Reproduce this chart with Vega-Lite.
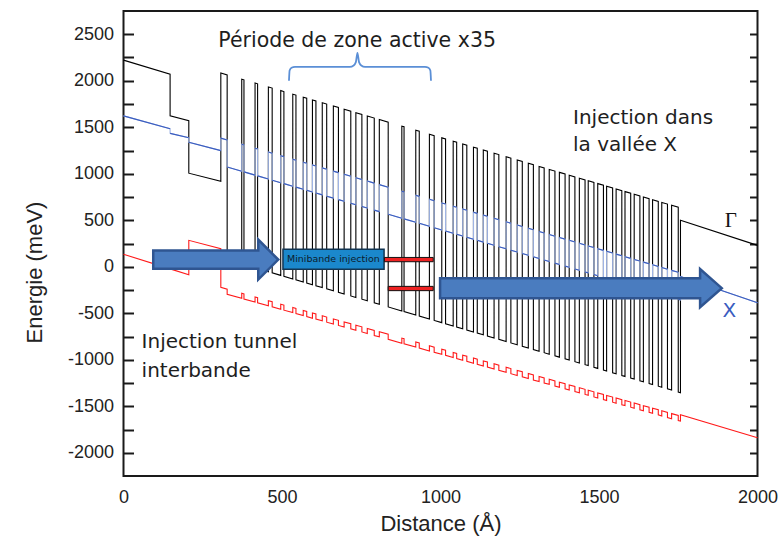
{
  "$schema": "https://vega.github.io/schema/vega-lite/v6.json",
  "width": 634,
  "height": 465,
  "autosize": {"type": "none"},
  "padding": {"left": 123.5, "top": 11, "right": 21.5, "bottom": 69},
  "background": "white",
  "config": {
    "view": {"stroke": "#1a1a1a", "strokeWidth": 2},
    "axis": {"grid": false, "domain": false, "ticks": false, "labelFlush": false, "labelFont": "Liberation Sans", "titleFont": "Liberation Sans", "labelColor": "#222", "titleColor": "#222", "titleFontWeight": "normal"}
  },
  "resolve": {"axis": {"y": "independent"}},
  "datasets": {
    "profile": [
      {"x":0,"g":2222,"b":1622,"r":134},{"x":147,"g":2071,"b":1484,"r":-23},{"x":147,"g":1622,"b":1434,"r":-23},{"x":206,"g":1570,"b":1388,"r":-86},{"x":206,"g":1006,"b":1338,"r":284},{"x":307,"g":920,"b":1249,"r":195},
      {"x":307,"g":2083,"b":1383,"r":-222},{"x":327,"g":2063,"b":1363,"r":-241},{"x":327,"g":76,"b":1073,"r":-296},
      {"x":373,"g":30,"b":1027,"r":-340},{"x":373,"g":2017,"b":1317,"r":-285},{"x":380,"g":2010,"b":1310,"r":-292},{"x":380,"g":23,"b":1020,"r":-347},
      {"x":415,"g":-12,"b":985,"r":-380},{"x":415,"g":1975,"b":1275,"r":-325},{"x":423,"g":1967,"b":1267,"r":-333},{"x":423,"g":-20,"b":977,"r":-388},
      {"x":457,"g":-54,"b":943,"r":-420},{"x":457,"g":1933,"b":1233,"r":-365},{"x":469,"g":1921,"b":1221,"r":-376},{"x":469,"g":-66,"b":931,"r":-431},
      {"x":496,"g":-93,"b":904,"r":-457},{"x":496,"g":1894,"b":1194,"r":-402},{"x":506,"g":1884,"b":1184,"r":-412},{"x":506,"g":-103,"b":894,"r":-467},
      {"x":534,"g":-131,"b":866,"r":-493},{"x":534,"g":1856,"b":1156,"r":-438},{"x":544,"g":1846,"b":1146,"r":-448},{"x":544,"g":-141,"b":856,"r":-503},
      {"x":567,"g":-164,"b":833,"r":-525},{"x":567,"g":1823,"b":1123,"r":-470},{"x":578,"g":1812,"b":1112,"r":-480},{"x":578,"g":-175,"b":822,"r":-535},
      {"x":596,"g":-193,"b":804,"r":-553},{"x":596,"g":1794,"b":1094,"r":-498},{"x":607,"g":1783,"b":1083,"r":-508},{"x":607,"g":-204,"b":793,"r":-563},
      {"x":627,"g":-224,"b":773,"r":-582},{"x":627,"g":1763,"b":1063,"r":-527},{"x":641,"g":1749,"b":1049,"r":-541},{"x":641,"g":-238,"b":759,"r":-596},
      {"x":662,"g":-259,"b":738,"r":-616},{"x":662,"g":1728,"b":1028,"r":-561},{"x":678,"g":1712,"b":1012,"r":-576},{"x":678,"g":-275,"b":722,"r":-631},
      {"x":696,"g":-293,"b":704,"r":-648},{"x":696,"g":1694,"b":994,"r":-593},{"x":717,"g":1673,"b":973,"r":-613},{"x":717,"g":-314,"b":683,"r":-668},
      {"x":733,"g":-330,"b":667,"r":-683},{"x":733,"g":1657,"b":957,"r":-628},{"x":752,"g":1638,"b":938,"r":-646},{"x":752,"g":-349,"b":648,"r":-701},
      {"x":769,"g":-366,"b":631,"r":-718},{"x":769,"g":1621,"b":921,"r":-663},{"x":791,"g":1599,"b":899,"r":-684},{"x":791,"g":-388,"b":609,"r":-739},
      {"x":807,"g":-404,"b":593,"r":-754},{"x":807,"g":1583,"b":883,"r":-699},{"x":835,"g":1555,"b":855,"r":-726},{"x":835,"g":-432,"b":565,"r":-781},
      {"x":878,"g":-475,"b":522,"r":-822},{"x":878,"g":1512,"b":812,"r":-767},{"x":885,"g":1505,"b":805,"r":-773},{"x":885,"g":-482,"b":515,"r":-828},
      {"x":922,"g":-519,"b":478,"r":-864},{"x":922,"g":1468,"b":768,"r":-809},{"x":933,"g":1457,"b":757,"r":-819},{"x":933,"g":-530,"b":467,"r":-874},
      {"x":965,"g":-562,"b":435,"r":-905},{"x":965,"g":1425,"b":725,"r":-850},{"x":980,"g":1410,"b":710,"r":-864},{"x":980,"g":-577,"b":420,"r":-919},
      {"x":1004,"g":-601,"b":396,"r":-942},{"x":1004,"g":1386,"b":686,"r":-887},{"x":1016,"g":1374,"b":674,"r":-898},{"x":1016,"g":-613,"b":384,"r":-953},
      {"x":1040,"g":-637,"b":360,"r":-976},{"x":1040,"g":1350,"b":650,"r":-921},{"x":1051,"g":1339,"b":639,"r":-932},{"x":1051,"g":-648,"b":349,"r":-987},
      {"x":1070,"g":-667,"b":330,"r":-1005},{"x":1070,"g":1320,"b":620,"r":-950},{"x":1083,"g":1307,"b":607,"r":-962},{"x":1083,"g":-680,"b":317,"r":-1017},
      {"x":1104,"g":-701,"b":296,"r":-1037},{"x":1104,"g":1286,"b":586,"r":-982},{"x":1116,"g":1274,"b":574,"r":-994},{"x":1116,"g":-713,"b":284,"r":-1049},
      {"x":1135,"g":-732,"b":265,"r":-1067},{"x":1135,"g":1255,"b":555,"r":-1012},{"x":1148,"g":1242,"b":542,"r":-1024},{"x":1148,"g":-745,"b":252,"r":-1079},
      {"x":1169,"g":-766,"b":231,"r":-1099},{"x":1169,"g":1221,"b":521,"r":-1044},{"x":1184,"g":1206,"b":506,"r":-1059},{"x":1184,"g":-781,"b":216,"r":-1114},
      {"x":1207,"g":-804,"b":193,"r":-1135},{"x":1207,"g":1183,"b":483,"r":-1080},{"x":1222,"g":1168,"b":468,"r":-1095},{"x":1222,"g":-819,"b":178,"r":-1150},
      {"x":1242,"g":-839,"b":158,"r":-1169},{"x":1242,"g":1148,"b":448,"r":-1114},{"x":1258,"g":1132,"b":432,"r":-1129},{"x":1258,"g":-855,"b":142,"r":-1184},
      {"x":1277,"g":-874,"b":123,"r":-1202},{"x":1277,"g":1113,"b":413,"r":-1147},{"x":1293,"g":1097,"b":397,"r":-1163},{"x":1293,"g":-890,"b":107,"r":-1218},
      {"x":1311,"g":-908,"b":89,"r":-1235},{"x":1311,"g":1079,"b":379,"r":-1180},{"x":1327,"g":1063,"b":363,"r":-1195},{"x":1327,"g":-924,"b":73,"r":-1250},
      {"x":1343,"g":-940,"b":57,"r":-1265},{"x":1343,"g":1047,"b":347,"r":-1210},{"x":1361,"g":1029,"b":329,"r":-1227},{"x":1361,"g":-958,"b":39,"r":-1282},
      {"x":1375,"g":-972,"b":25,"r":-1296},{"x":1375,"g":1015,"b":315,"r":-1241},{"x":1393,"g":997,"b":297,"r":-1258},{"x":1393,"g":-990,"b":7,"r":-1313},
      {"x":1406,"g":-1003,"b":-6,"r":-1325},{"x":1406,"g":984,"b":284,"r":-1270},{"x":1424,"g":966,"b":266,"r":-1288},{"x":1424,"g":-1021,"b":-24,"r":-1343},
      {"x":1438,"g":-1035,"b":-38,"r":-1356},{"x":1438,"g":952,"b":252,"r":-1301},{"x":1456,"g":934,"b":234,"r":-1318},{"x":1456,"g":-1053,"b":-56,"r":-1373},
      {"x":1466,"g":-1063,"b":-66,"r":-1383},{"x":1466,"g":924,"b":224,"r":-1328},{"x":1484,"g":906,"b":206,"r":-1345},{"x":1484,"g":-1081,"b":-84,"r":-1400},
      {"x":1496,"g":-1093,"b":-96,"r":-1411},{"x":1496,"g":894,"b":194,"r":-1356},{"x":1514,"g":876,"b":176,"r":-1373},{"x":1514,"g":-1111,"b":-114,"r":-1428},
      {"x":1524,"g":-1121,"b":-124,"r":-1438},{"x":1524,"g":866,"b":166,"r":-1383},{"x":1543,"g":847,"b":147,"r":-1401},{"x":1543,"g":-1140,"b":-143,"r":-1456},
      {"x":1554,"g":-1151,"b":-154,"r":-1467},{"x":1554,"g":836,"b":136,"r":-1412},{"x":1572,"g":818,"b":118,"r":-1429},{"x":1572,"g":-1169,"b":-172,"r":-1484},
      {"x":1582,"g":-1179,"b":-182,"r":-1493},{"x":1582,"g":808,"b":108,"r":-1438},{"x":1600,"g":790,"b":90,"r":-1455},{"x":1600,"g":-1197,"b":-200,"r":-1510},
      {"x":1611,"g":-1208,"b":-211,"r":-1521},{"x":1611,"g":779,"b":79,"r":-1466},{"x":1629,"g":761,"b":61,"r":-1483},{"x":1629,"g":-1226,"b":-229,"r":-1538},
      {"x":1640,"g":-1237,"b":-240,"r":-1549},{"x":1640,"g":750,"b":50,"r":-1494},{"x":1658,"g":732,"b":32,"r":-1511},{"x":1658,"g":-1255,"b":-258,"r":-1566},
      {"x":1669,"g":-1266,"b":-269,"r":-1576},{"x":1669,"g":721,"b":21,"r":-1521},{"x":1687,"g":703,"b":3,"r":-1538},{"x":1687,"g":-1284,"b":-287,"r":-1593},
      {"x":1698,"g":-1295,"b":-298,"r":-1604},{"x":1698,"g":692,"b":-8,"r":-1549},{"x":1716,"g":674,"b":-26,"r":-1566},{"x":1716,"g":-1313,"b":-316,"r":-1621},
      {"x":1729,"g":-1326,"b":-329,"r":-1634},{"x":1729,"g":661,"b":-39,"r":-1579},{"x":1750,"g":640,"b":-60,"r":-1599},{"x":1750,"g":-1347,"b":-350,"r":-1654},
      {"x":1757,"g":-1354,"b":-357,"r":-1660},{"x":1757,"g":499,"b":-105,"r":-1592},{"x":2000,"g":230,"b":-388,"r":-1839}
    ],
    "brace": [
      {"x":522,"E":2000},{"x":524,"E":2110},{"x":530,"E":2140},{"x":541,"E":2150},{"x":714,"E":2150},{"x":726,"E":2165},{"x":733,"E":2200},{"x":738,"E":2300},{"x":743,"E":2200},{"x":750,"E":2165},{"x":762,"E":2150},{"x":951,"E":2150},{"x":962,"E":2140},{"x":968,"E":2110},{"x":970,"E":2000}
    ]
  },
  "encoding": {
    "x": {"field": "x", "type": "quantitative", "scale": {"domain": [0, 2000], "nice": false, "zero": false},
      "axis": {"values": [0, 500, 1000, 1500, 2000], "labelExpr": "'' + datum.value", "labelFontSize": 18, "labelPadding": 12, "title": "Distance (Å)", "titleFontSize": 22, "titleY": 47, "titleBaseline": "middle"}},
    "y": {"field": "E", "type": "quantitative", "scale": {"domain": [-2250, 2750], "nice": false, "zero": false}, "axis": null}
  },
  "layer": [
    {
      "data": {"name": "profile"},
      "transform": [{"fold": ["g", "b", "r"], "as": ["band", "E"]}],
      "mark": {"type": "line", "strokeWidth": 1.1},
      "encoding": {
        "color": {"field": "band", "type": "nominal", "scale": {"domain": ["g", "b", "r"], "range": ["#000000", "#9fb4e4", "#ff1a1a"]}, "legend": null},
        "order": {"value": null}
      }
    },
    {
      "data": {"name": "profile"},
      "transform": [
        {"window": [{"op": "lead", "field": "x", "as": "nx"}, {"op": "lead", "field": "b", "as": "nb"}]},
        {"filter": "datum.nx > datum.x"}
      ],
      "mark": {"type": "rule", "stroke": "#3a5cbf", "strokeWidth": 1.1},
      "encoding": {"x2": {"field": "nx"}, "y": {"field": "b", "type": "quantitative", "axis": null}, "y2": {"field": "nb"}}
    },
    {
      "data": {"name": "brace"},
      "mark": {"type": "line", "stroke": "#5b8fd6", "strokeWidth": 1.8, "interpolate": "monotone"},
      "encoding": {
        "y": {"field": "E", "type": "quantitative",
          "axis": {"orient": "left", "values": [-2000,-1750,-1500,-1250,-1000,-750,-500,-250,0,250,500,750,1000,1250,1500,1750,2000,2250,2500],
            "labelExpr": "datum.value % 500 === 0 ? '' + datum.value : ''", "ticks": true, "tickSize": 10, "tickWidth": 2, "tickColor": "#1a1a1a", "offset": -10,
            "labelFontSize": 18, "labelPadding": 10, "labelOverlap": false, "title": "Energie (meV)", "titleFontSize": 22, "titleX": -99, "titleY": 261, "titleBaseline": "middle"}}
      }
    },
    {
      "data": {"values": [{"x": 291, "E": 77}]},
      "mark": {"type": "point", "shape": "M-1,-0.146L0.68,-0.146L0.68,-0.32L1,0L0.68,0.32L0.68,0.146L-1,0.146Z", "size": 15625, "filled": true, "fill": "#4a7cbf", "stroke": "#2f5591", "strokeWidth": 2.5, "opacity": 1, "strokeJoin": "miter"},
      "encoding": {
        "y": {"field": "E", "type": "quantitative",
          "axis": {"orient": "right", "values": [-2000,-1750,-1500,-1250,-1000,-750,-500,-250,0,250,500,750,1000,1250,1500,1750,2000,2250,2500],
            "labels": false, "ticks": true, "tickSize": 8, "tickWidth": 2, "tickColor": "#1a1a1a", "offset": -8, "title": null}}
      }
    },
    {
      "data": {"values": [{"x": 1443, "E": -230}]},
      "mark": {"type": "point", "shape": "M-1,-0.071L0.846,-0.071L0.846,-0.136L1,0L0.846,0.136L0.846,0.071L-1,0.071Z", "size": 79355, "filled": true, "fill": "#4a7cbf", "stroke": "#2f5591", "strokeWidth": 2.5, "opacity": 1, "strokeJoin": "miter"},
      "encoding": {}
    },
    {
      "data": {"values": [{"x": 503, "x2": 822, "E": 188, "E2": -27}]},
      "mark": {"type": "rect", "fill": "#1b88cc", "stroke": "#123552", "strokeWidth": 1.5},
      "encoding": {"x2": {"field": "x2"}, "y2": {"field": "E2"}}
    },
    {
      "data": {"values": [{"x": 662, "E": 80, "label": "Minibande injection"}]},
      "mark": {"type": "text", "font": "DejaVu Sans", "fontSize": 9.5, "fill": "#0b1c2c", "align": "center", "baseline": "middle"},
      "encoding": {"text": {"field": "label"}}
    },
    {
      "data": {"values": [{"x": 823, "x2": 977, "E": 100, "E2": 54}, {"x": 835, "x2": 977, "E": -211, "E2": -257}]},
      "mark": {"type": "rect", "fill": "#ee2222", "stroke": "#111111", "strokeWidth": 1},
      "encoding": {"x2": {"field": "x2"}, "y2": {"field": "E2"}}
    },
    {
      "data": {"values": [{"x": 737, "E": 2364, "label": "Période de zone active x35"}]},
      "mark": {"type": "text", "font": "DejaVu Sans", "fontSize": 20.5, "fill": "#1e1e1e", "align": "center", "baseline": "alphabetic"},
      "encoding": {"text": {"field": "label"}}
    },
    {
      "data": {"values": [
        {"x": 1418, "E": 1536, "label": "Injection dans"},
        {"x": 1418, "E": 1249, "label": "la vallée X"},
        {"x": 57, "E": -878, "label": "Injection tunnel"},
        {"x": 57, "E": -1182, "label": "interbande"}
      ]},
      "mark": {"type": "text", "font": "DejaVu Sans", "fontSize": 20, "fill": "#1e1e1e", "align": "left", "baseline": "alphabetic"},
      "encoding": {"text": {"field": "label"}}
    },
    {
      "data": {"values": [{"x": 1916, "E": 427, "label": "Γ"}]},
      "mark": {"type": "text", "font": "Liberation Serif", "fontSize": 21, "fill": "#111111", "align": "center", "baseline": "alphabetic"},
      "encoding": {"text": {"field": "label"}}
    },
    {
      "data": {"values": [{"x": 1911, "E": -538, "label": "X"}]},
      "mark": {"type": "text", "font": "DejaVu Sans", "fontSize": 20, "fill": "#3a5cbf", "align": "center", "baseline": "alphabetic"},
      "encoding": {"text": {"field": "label"}}
    }
  ]
}
